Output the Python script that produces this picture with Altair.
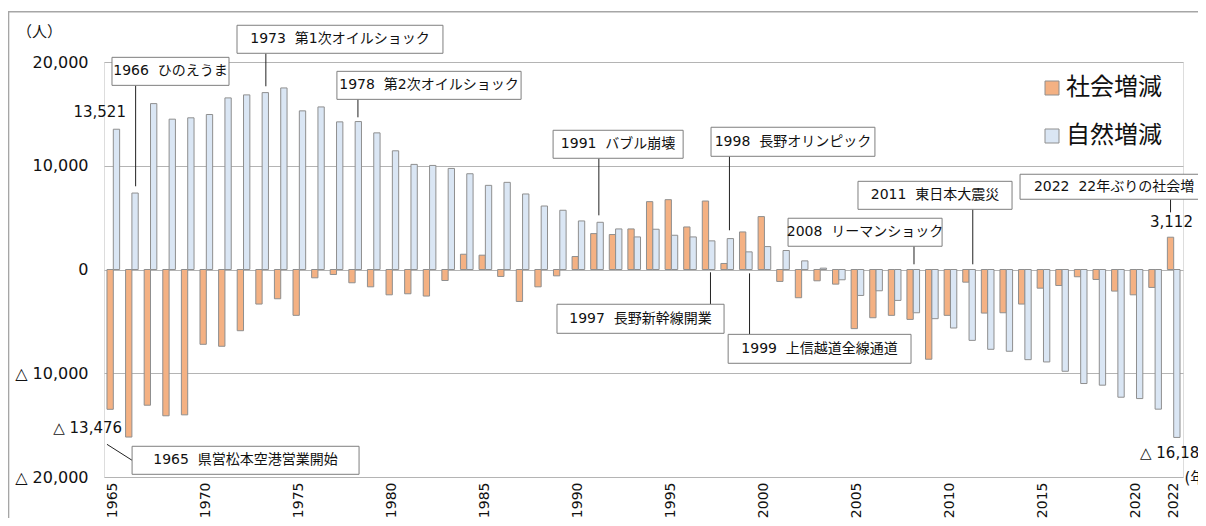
import altair as alt
import pandas as pd

# ---------------- data ----------------
years = list(range(1965, 2023))
series_names = ["社会増減", "自然増減"]

social = [
    -13476, -16150, -13080, -14100, -14010, -7210, -7400, -5900, -3330, -2820,
    -4420, -800, -480, -1280, -1670, -2440, -2340, -2560, -1060, 1470,
    1380, -670, -3080, -1670, -610, 1250, 3460, 3370, 3910, 6540,
    6730, 4100, 6600, 580, 3620, 5100, -1150, -2720, -1090, -1410,
    -5700, -4650, -4420, -4810, -8650, -4420, -1220, -4200, -4170, -3330,
    -1800, -1540, -700, -960, -2080, -2440, -1730, 3112,
]
natural = [
    13521, 7370, 15990, 14490, 14620, 14940, 16540, 16830, 17050, 17500,
    15290, 15670, 14230, 14260, 13170, 11440, 10130, 10030, 9740, 9230,
    8110, 8400, 7280, 6120, 5710, 4680, 4550, 3910, 3140, 3880,
    3300, 3140, 2760, 2980, 1700, 2210, 1830, 830, 130, -990,
    -2500, -2050, -2980, -4170, -4740, -5640, -6830, -7690, -7880, -8690,
    -8910, -9810, -10990, -11150, -12310, -12440, -13460, -16186,
]
x_tick_years = [1965, 1970, 1975, 1980, 1985, 1990, 1995, 2000, 2005, 2010, 2015, 2020, 2022]

SP = "\u00a0\u00a0"
# annotations (in data units: year position, value)
ann_labels = [
    "1966" + SP + "ひのえうま", "1973" + SP + "第1次オイルショック", "1978" + SP + "第2次オイルショック",
    "1991" + SP + "バブル崩壊", "1998" + SP + "長野オリンピック", "1997" + SP + "長野新幹線開業",
    "1999" + SP + "上信越道全線通道", "2008" + SP + "リーマンショック", "2011" + SP + "東日本大震災",
    "2022" + SP + "22年ぶりの社会増", "1965" + SP + "県営松本空港営業開始",
]
ann_x0 = [1964.93, 1971.65, 1977.02, 1988.64, 1997.13, 1988.85, 1998.05, 2001.27, 2005.03, 2013.74, 1966.01]
ann_x1 = [1971.22, 1982.72, 1986.92, 1995.63, 2005.94, 1997.83, 2007.88, 2009.55, 2013.31, 2023.85, 1978.21]
ann_y0 = [20450, 23540, 19100, 13420, 13710, -3350, -6250, 4940, 8500, 9180, -17040]
ann_y1 = [17750, 20840, 16400, 10720, 10910, -6150, -9040, 2240, 5800, 6770, -19740]

# connector lines
line_x = [1966.2, 1973.2, 1978.15, 1991.1, 1998.12, 1997.1, 1999.2, 2008.04, 2011.2, 2021.83, 1964.66]
line_x2 = [1966.2, 1973.2, 1978.15, 1991.1, 1998.12, 1997.1, 1999.2, 2008.04, 2011.2, 2021.83, 1966.01]
line_y = [17750, 20840, 16400, 10720, 10910, -270, -370, 2240, 5800, 6770, -16850]
line_y2 = [8020, 17660, 14670, 5220, 3780, -3350, -6250, 500, 500, 5510, -18390]

# value labels
val_text = ["13,521", "△ 13,476", "3,112", "△ 16,186"]
val_x = [1965.68, 1965.47, 2021.88, 2020.19]
val_y = [15150, -15300, 4550, -17720]
val_align = ["right", "right", "center", "left"]

# ---------------- build ----------------
df = pd.DataFrame(
    [{"year": y, "series": series_names[0], "value": s} for y, s in zip(years, social)]
    + [{"year": y, "series": series_names[1], "value": n} for y, n in zip(years, natural)]
)
ann_df = pd.DataFrame({"label": ann_labels, "x0": ann_x0, "x1": ann_x1, "y0": ann_y0, "y1": ann_y1})
ann_df["cx"] = (ann_df["x0"] + ann_df["x1"]) / 2
ann_df["cy"] = (ann_df["y0"] + ann_df["y1"]) / 2
# the 2022 box runs off the right edge; its outline extends past the window
ann_df.loc[ann_df["label"].str.startswith("2022"), "x1"] = 2025.0
line_df = pd.DataFrame({"x": line_x, "x2": line_x2, "y": line_y, "y2": line_y2})
val_df = pd.DataFrame({"text": val_text, "x": val_x, "y": val_y, "align": val_align})
frame_df = pd.DataFrame({"x": [1959.37], "x2": [2035.0], "y": [24840], "y2": [-35000]})

W, H = 1079, 415
FONT = "DejaVu Sans, Noto Sans CJK JP"
ORANGE = "#F4B183"
BLUE = "#DAE6F4"
EDGE = "#8f8f8f"
GRID = "#b4b4b4"

yscale = alt.Scale(domain=[-20000, 20000], nice=False, zero=False)
xq = alt.Scale(domain=[1964.5, 2022.5], nice=False, zero=False)

yaxis = alt.Axis(
    values=[-20000, -10000, 0, 10000, 20000],
    labelExpr="datum.value < 0 ? '△ ' + format(-datum.value, ',') : format(datum.value, ',')",
    labelFontSize=16, labelFont=FONT, labelColor="#111", labelPadding=16,
    ticks=False, domain=False, grid=True, gridColor=GRID, gridWidth=1,
    title="（人）", titleAngle=0, titleX=-65, titleY=-31, titleAlign="center",
    titleBaseline="middle", titleFontSize=15, titleFontWeight="normal",
    titleFont=FONT, titleColor="#111",
)


def Y(field):
    return alt.Y(field, scale=yscale, axis=yaxis)


bars = alt.Chart(df).mark_bar(stroke=EDGE, strokeWidth=1).encode(
    x=alt.X(
        "year:O",
        scale=alt.Scale(paddingInner=0.32, paddingOuter=0.16),
        axis=alt.Axis(
            values=x_tick_years, labelAngle=-90, labelFontSize=14, labelFont=FONT,
            labelColor="#111", labelPadding=5, ticks=False, domain=False,
            labelOverlap=False, title="(年)", titleAngle=0, titleX=W + 1, titleY=0,
            titleAlign="left", titleBaseline="middle", titleFontSize=15,
            titleFontWeight="normal", titleFont=FONT, titleColor="#111",
        ),
    ),
    xOffset=alt.XOffset("series:N", sort=series_names, scale=alt.Scale(domain=series_names)),
    y=Y("value:Q"),
    color=alt.Color(
        "series:N",
        scale=alt.Scale(domain=series_names, range=[ORANGE, BLUE]),
        legend=alt.Legend(
            title=None, orient="none", legendX=936, legendY=14, symbolType="square",
            symbolSize=196, symbolStrokeColor=EDGE, symbolStrokeWidth=1,
            labelFontSize=24, labelFont=FONT, labelColor="#111", labelOffset=2,
            rowPadding=24,
        ),
    ),
)

frame = alt.Chart(frame_df).mark_rect(fillOpacity=0, stroke="#a6a6a6", strokeWidth=1.5).encode(
    x=alt.X("x:Q", scale=xq, axis=None), x2="x2:Q",
    y=Y("y:Q"), y2="y2:Q",
)

lines = alt.Chart(line_df).mark_rule(color="#222", strokeWidth=1).encode(
    x=alt.X("x:Q", scale=xq, axis=None), x2="x2:Q",
    y=Y("y:Q"), y2="y2:Q",
)

boxes = alt.Chart(ann_df).mark_rect(fill="white", stroke="#7f7f7f", strokeWidth=1).encode(
    x=alt.X("x0:Q", scale=xq, axis=None), x2="x1:Q",
    y=Y("y0:Q"), y2="y1:Q",
)

box_text = alt.Chart(ann_df).mark_text(fontSize=14, font=FONT, color="#111", baseline="middle").encode(
    x=alt.X("cx:Q", scale=xq, axis=None),
    y=Y("cy:Q"),
    text="label:N",
)

val_layers = []
for al in ["right", "center", "left"]:
    sub = val_df[val_df["align"] == al]
    val_layers.append(
        alt.Chart(sub).mark_text(fontSize=15, font=FONT, color="#111", baseline="middle", align=al).encode(
            x=alt.X("x:Q", scale=xq, axis=None),
            y=Y("y:Q"),
            text="text:N",
        )
    )

chart = alt.layer(bars, frame, lines, boxes, box_text, *val_layers).resolve_scale(
    x="independent"
).properties(
    width=W, height=H,
    autosize=alt.AutoSizeParams(type="none"),
    padding={"left": 96, "top": 54, "right": 15, "bottom": 41},
).configure_view(strokeWidth=0).configure(background="white")

chart.save("out.html", embed_options={"renderer": "svg", "actions": False})
